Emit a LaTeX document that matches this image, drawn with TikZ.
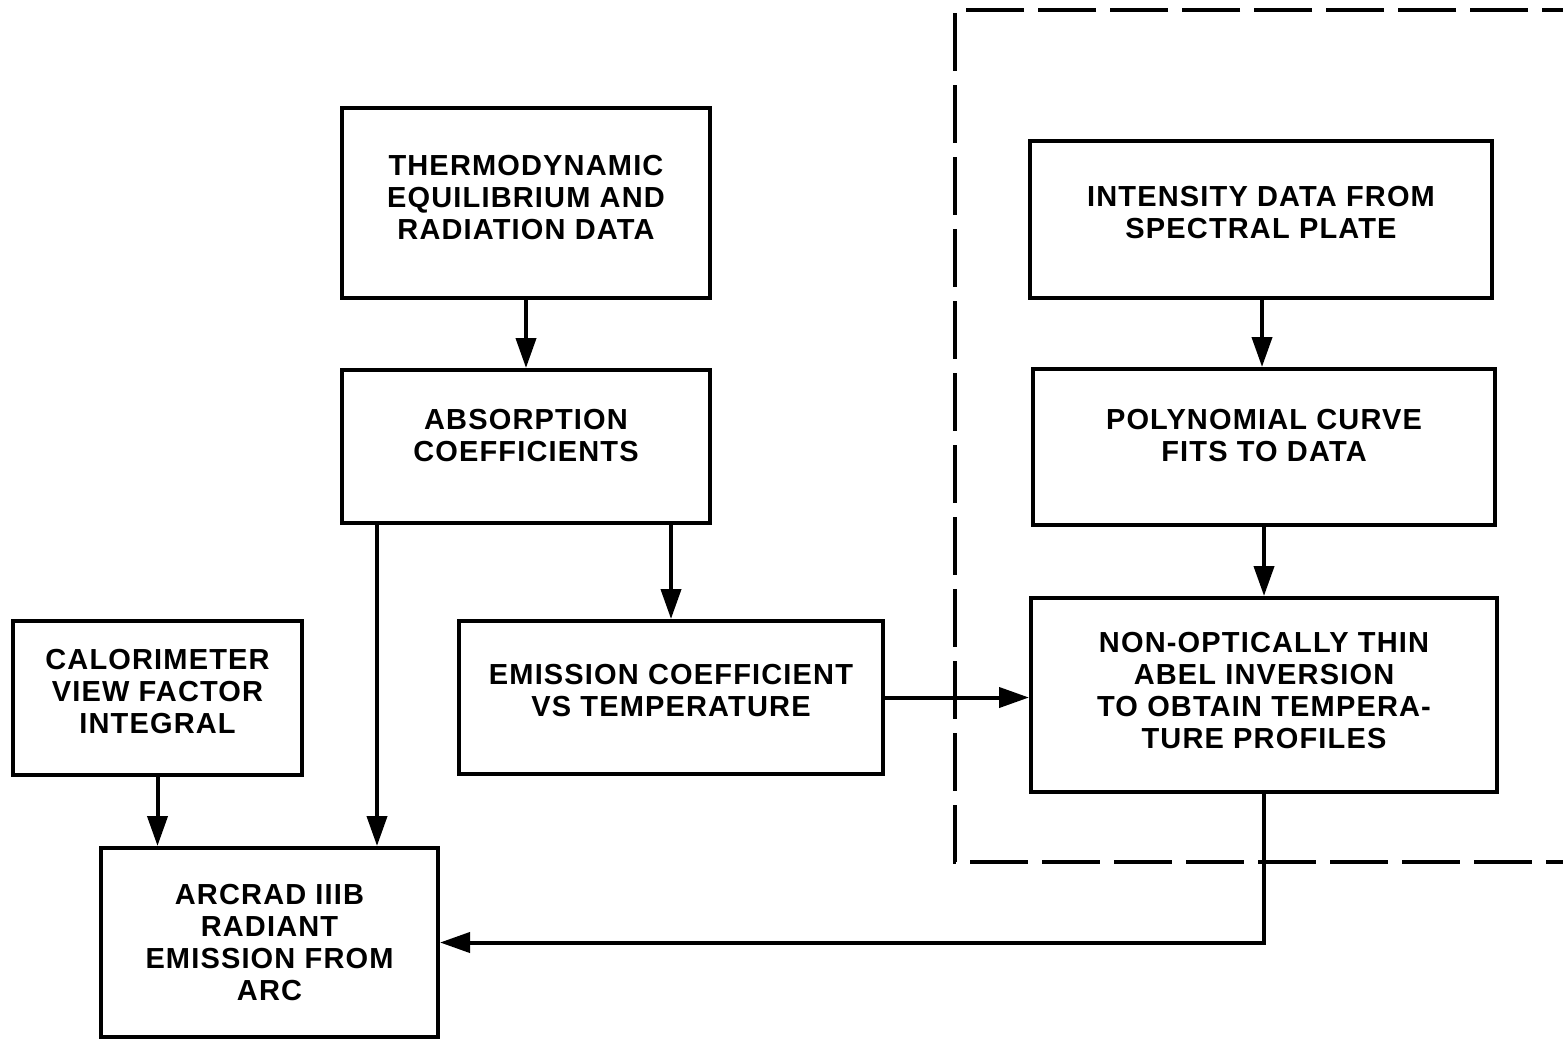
\documentclass[tikz,border=0pt]{standalone}
\usepackage{fontspec}
\setmainfont{Liberation Sans}[LetterSpace=4]
\usetikzlibrary{arrows.meta}
\begin{document}
\begin{tikzpicture}[x=0.5pt,y=-0.5pt,
  box/.style={draw,line width=2pt,rectangle,align=center,inner sep=0pt,
    font=\fontsize{14.5pt}{16pt}\selectfont\bfseries},
  arr/.style={line width=2pt,-{Triangle[length=15pt,width=10pt]}},
  grp/.style={line width=2pt,dash pattern=on 29pt off 7pt}]
\useasboundingbox (0,0) rectangle (1563,1040);
\node[box,minimum width=184pt,minimum height=95pt,text depth=6pt] (thermo) at (526,203) {THERMODYNAMIC\\EQUILIBRIUM AND\\RADIATION DATA};
\node[box,minimum width=184pt,minimum height=76.5pt,text depth=11pt] (absorb) at (526,446.5) {ABSORPTION\\COEFFICIENTS};
\node[box,minimum width=212pt,minimum height=76.5pt,text depth=7.5pt] (emis) at (671,697.5) {EMISSION COEFFICIENT\\VS TEMPERATURE};
\node[box,minimum width=144.5pt,minimum height=77pt,text depth=7pt] (calor) at (157.5,698) {CALORIMETER\\VIEW FACTOR\\INTEGRAL};
\node[box,minimum width=168.5pt,minimum height=94.5pt] (arcrad) at (269.5,942.5) {ARCRAD IIIB\\RADIANT\\EMISSION FROM\\ARC};
\node[box,minimum width=231pt,minimum height=78.5pt,text depth=7.5pt] (inten) at (1261,219.5) {INTENSITY DATA FROM\\SPECTRAL PLATE};
\node[box,minimum width=231pt,minimum height=78pt,text depth=12pt] (poly) at (1264,447) {POLYNOMIAL CURVE\\FITS TO DATA};
\node[box,minimum width=233pt,minimum height=97pt,text depth=5pt] (nonopt) at (1264,695) {NON-OPTICALLY THIN\\ABEL INVERSION\\TO OBTAIN TEMPERA-\\TURE PROFILES};
% dashed group
\coordinate (gtr) at (1600,10);
\coordinate (gtl) at (955,10);
\coordinate (gbl) at (955,862);
\coordinate (gbr) at (1600,862);
\draw[grp] (gtr) -- (gtl) -- (gbl) -- (gbr);
% connectors
\draw[arr] (thermo.south) -- (absorb.north);
\draw[arr] (emis.north |- absorb.south) -- (emis.north);
\draw[arr] ([xshift=18.5pt]absorb.south west) -- ([xshift=18.5pt]absorb.south west |- arcrad.north);
\draw[arr] (calor.south) -- (calor.south |- arcrad.north);
\draw[arr] (emis.east) -- (emis.east -| nonopt.west);
\draw[arr] ([xshift=-1pt]poly.north |- inten.south) -- ([xshift=-1pt]poly.north);
\draw[arr] (poly.south) -- (nonopt.north);
\draw[arr] (nonopt.south) |- (arcrad.east);
\end{tikzpicture}
\end{document}
